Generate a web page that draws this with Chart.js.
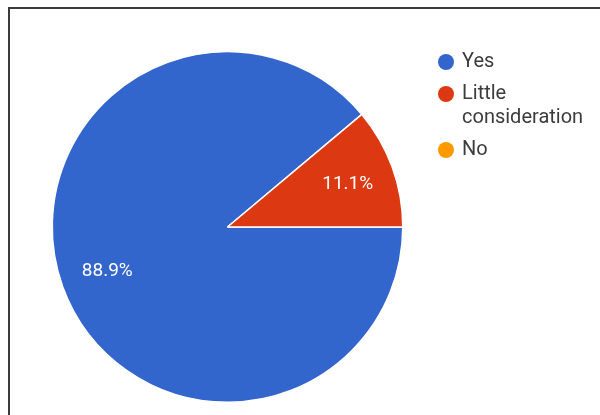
<!DOCTYPE html>
<html>
<head>
<meta charset="utf-8">
<script src="https://cdn.jsdelivr.net/npm/chart.js@4.4.1/dist/chart.umd.min.js"></script>
<style>
  html, body { margin: 0; padding: 0; background: #fff; overflow: hidden; }
  #frame {
    position: absolute; left: 8px; top: 7px; width: 620px; height: 430px;
    border-top: 2px solid #3c3c3c; border-left: 2px solid #3c3c3c;
  }
  #wrap { position: absolute; left: 0; top: 0; width: 600px; height: 415px; }
</style>
</head>
<body>
<div id="frame"></div>
<div id="wrap"><canvas id="pie"></canvas></div>
<script>
"use strict"

// survey answers and their share of responses (%)
const answers = ["Yes", "Little consideration", "No"];
const shares = [88.9, 11.1, 0];
const sliceColors = ["#3366cc", "#dc3912", "#ff9900"];

const fontFamily = "Roboto, Arial, sans-serif";

// percent text inside each slice
const sliceLabels = {
    id: "sliceLabels",
    afterDatasetsDraw(chart) {
        const ctx = chart.ctx;
        const meta = chart.getDatasetMeta(0);
        ctx.save();
        ctx.fillStyle = "#ffffff";
        ctx.font = "19px " + fontFamily;
        ctx.textAlign = "center";
        ctx.textBaseline = "middle";
        meta.data.forEach((arc, i) => {
            const value = chart.data.datasets[0].data[i];
            if (value <= 0) return;
            const p = arc.getProps(["x", "y", "startAngle", "endAngle", "outerRadius"], true);
            const mid = (p.startAngle + p.endAngle) / 2;
            const r = p.outerRadius * 0.73;
            ctx.fillText(value.toFixed(1) + "%", p.x + Math.cos(mid) * r, p.y + Math.sin(mid) * r + 1);
        });
        ctx.restore();
    }
};

// legend on the right, long names wrap onto a second line
const sideLegend = {
    id: "sideLegend",
    afterDraw(chart) {
        const ctx = chart.ctx;
        const dotX = 446;
        const textX = 462;
        const lineHeight = 24;
        const maxWidth = 130;
        let y = 62;
        ctx.save();
        ctx.font = "20px " + fontFamily;
        ctx.textBaseline = "middle";
        chart.data.labels.forEach((label, i) => {
            // simple word wrap
            const words = label.split(" ");
            const lines = [];
            let line = "";
            words.forEach(w => {
                const test = line ? line + " " + w : w;
                if (line && ctx.measureText(test).width > maxWidth) {
                    lines.push(line);
                    line = w;
                } else {
                    line = test;
                }
            });
            lines.push(line);

            ctx.fillStyle = sliceColors[i];
            ctx.beginPath();
            ctx.arc(dotX, y, 8, 0, Math.PI * 2);
            ctx.fill();

            ctx.fillStyle = "#3c3c3c";
            lines.forEach((l, j) => {
                ctx.fillText(l, textX, y + j * lineHeight);
            });
            y += lines.length * lineHeight + 8;
        });
        ctx.restore();
    }
};

const data = {
    labels: answers,
    datasets: [
        {
            data: shares,
            backgroundColor: sliceColors,
            borderColor: "#ffffff",
            borderWidth: 1.5,
        },
    ],
};

const config = {
    type: "pie",
    data: data,
    options: {
        responsive: true,
        maintainAspectRatio: false,
        animation: false,
        rotation: 90,
        layout: {
            padding: { left: 51, top: 51, right: 196, bottom: 12 }
        },
        plugins: {
            legend: { display: false },
            tooltip: { enabled: false },
        },
    },
    plugins: [sliceLabels, sideLegend],
};

const pieCanvas = document.getElementById("pie");
const pieChart = new Chart(pieCanvas, config);
</script>
</body>
</html>
